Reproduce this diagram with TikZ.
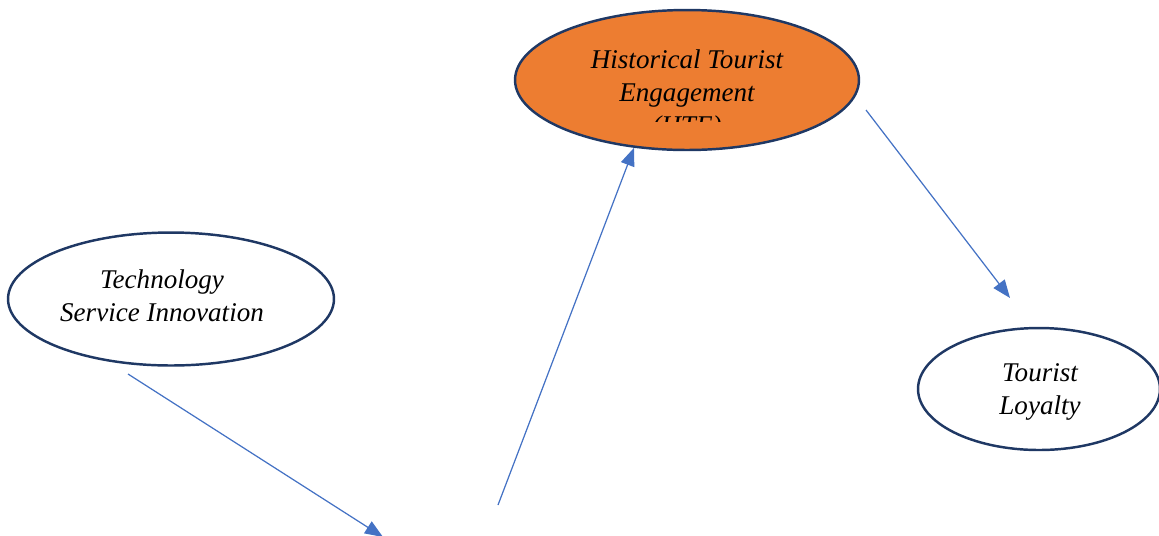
\documentclass[tikz,border=0pt]{standalone}
\usepackage{fontspec}
\setmainfont{Liberation Serif}
\usetikzlibrary{shapes.geometric}
\usetikzlibrary{arrows.meta}

\definecolor{hteorange}{HTML}{ED7D31}
\definecolor{rimnavy}{HTML}{1F3864}
\definecolor{linkblue}{HTML}{4472C4}

\tikzset{
  construct/.style={ellipse,draw=rimnavy,line width=1.4pt,inner sep=0pt},
  caption/.style={align=center,font=\fontsize{15.4}{18.8}\selectfont\itshape},
  link/.style={-{Triangle[length=0.36cm,width=0.28cm]},line width=0.7pt,linkblue}
}

\begin{document}
\begin{tikzpicture}[x=0.02cm,y=-0.02cm]
    \useasboundingbox (0,0) rectangle (1159,535);

    \node [construct,fill=hteorange,minimum width=6.88cm,minimum height=2.8cm] (hte) at (687,80) {};
    \begin{scope}
      \clip (515,10) rectangle (859,121);
      \node [caption] (hteText) at (687,95) {Historical Tourist\\Engagement\\(HTE)};
    \end{scope}

    \node [construct,minimum width=6.52cm,minimum height=2.66cm] (tsi) at (171,299) {};
    \node [caption] (tsiText) at (162,296) {Technology\\Service Innovation};

    \node [construct,minimum width=4.84cm,minimum height=2.44cm] (tl) at (1039,389) {};
    \node [caption] (tlText) at (1040,392) {Tourist\\Loyalty};

    \coordinate (tsiOut) at (128,374);
    \coordinate (lowEnd) at (383,537);
    \coordinate (lowStart) at (498,505);
    \coordinate (hteOut) at (866,110);
    \coordinate (tlIn) at (1010,298);

    \draw [link] (tsiOut) -- (lowEnd);
    \draw [link] (lowStart) -- (hte.-128);
    \draw [link] (hteOut) -- (tlIn);
\end{tikzpicture}
\end{document}
